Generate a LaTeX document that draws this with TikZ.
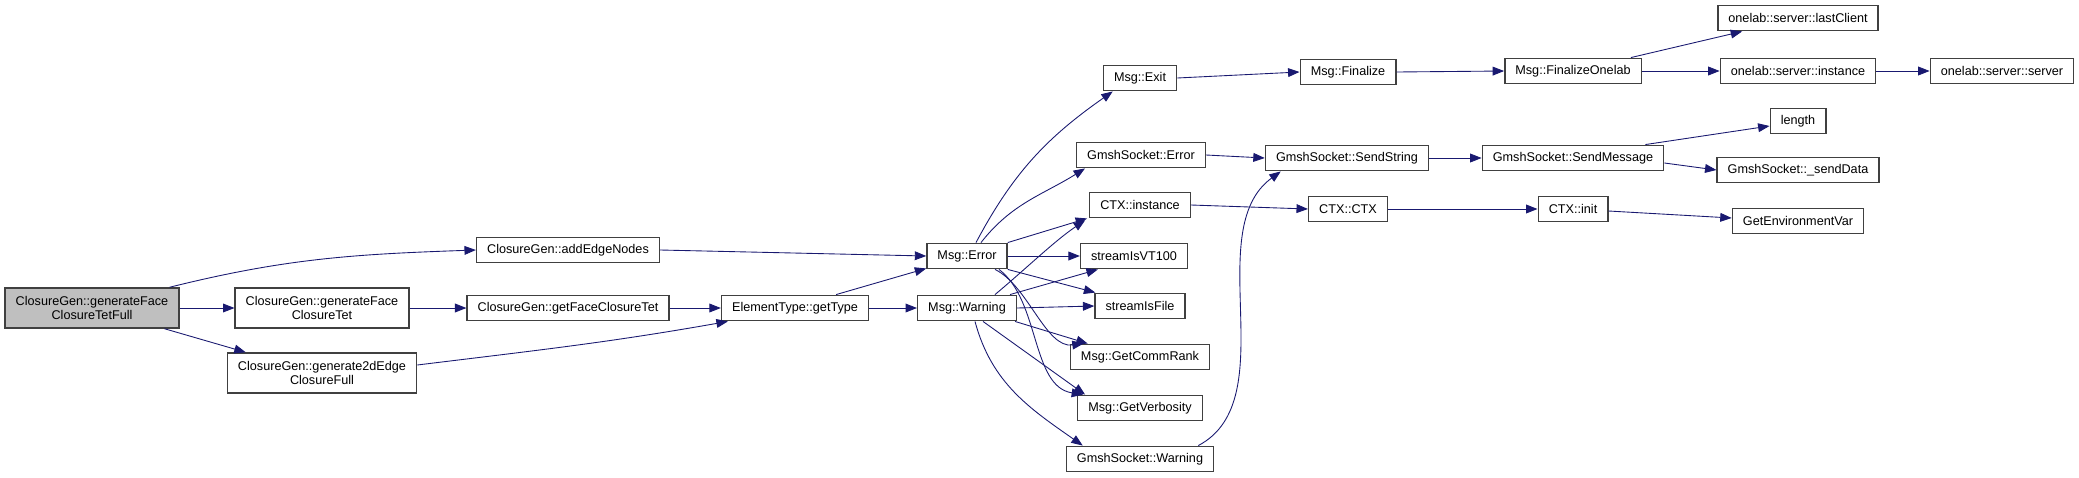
\documentclass[tikz,border=0pt]{standalone}
\usepackage{fontspec}
\setmainfont{Liberation Sans}
\usetikzlibrary{positioning, arrows.meta, calc}
\definecolor{cEdge}{HTML}{191970}
\definecolor{cRoot}{HTML}{BFBFBF}
\definecolor{cLine}{HTML}{404040}

\begin{document}
\begin{tikzpicture}[
  x=0.02cm, y=0.02cm,
  fn/.style={
    draw=cLine, line width=0.8pt, fill=white,
    font=\fontsize{7.2}{7.6}\selectfont, align=center,
    inner xsep=6pt, inner ysep=2pt, minimum height=14.5pt
  },
  fntwo/.style={fn, minimum height=22.8pt},
  rootfn/.style={fntwo, fill=cRoot},
  call/.style={
    draw=cEdge, line width=0.5pt,
    -{Triangle[length=6.5pt,width=5pt]}
  },
]
\useasboundingbox (0,0) rectangle (2079,-477);

% caller side
\node[rootfn] (ftf) at (92,-308) {ClosureGen::generateFace\\ClosureTetFull};
\node[fn] (addedge) at (568,-250) {ClosureGen::addEdgeNodes};
\node[fntwo] (fct) at (322,-308) {ClosureGen::generateFace\\ClosureTet};
\node[fn] (gfct) at (568,-308) {ClosureGen::getFaceClosureTet};
\node[fntwo] (tde) at (322,-373) {ClosureGen::generate2dEdge\\ClosureFull};
\node[fn] (gettype) at (795,-308) {ElementType::getType};

% Msg
\node[fn] (msgerr) at (967,-256) {Msg::Error};
\node[fn] (msgwarn) at (967,-308) {Msg::Warning};
\node[fn] (msgexit) at (1140,-78) {Msg::Exit};
\node[fn] (gserr) at (1141,-155) {GmshSocket::Error};
\node[fn] (ctxinst) at (1140,-205) {CTX::instance};
\node[fn] (isvt) at (1134,-256) {streamIsVT100};
\node[fn] (isfile) at (1140,-306) {streamIsFile};
\node[fn] (commrank) at (1140,-357) {Msg::GetCommRank};
\node[fn] (verbosity) at (1140,-408) {Msg::GetVerbosity};
\node[fn] (gswarn) at (1140,-459) {GmshSocket::Warning};

% further down
\node[fn] (msgfin) at (1348,-72) {Msg::Finalize};
\node[fn] (sendstr) at (1347,-158) {GmshSocket::SendString};
\node[fn] (ctxctx) at (1348,-209) {CTX::CTX};
\node[fn] (finonelab) at (1573,-71) {Msg::FinalizeOnelab};
\node[fn] (sendmsg) at (1573,-158) {GmshSocket::SendMessage};
\node[fn] (ctxinit) at (1573,-209) {CTX::init};
\node[fn] (lastclient) at (1798,-18) {onelab::server::lastClient};
\node[fn] (srvinst) at (1798,-71) {onelab::server::instance};
\node[fn] (len) at (1798,-121) {length};
\node[fn] (senddata) at (1798,-170) {GmshSocket::\_sendData};
\node[fn] (getenv) at (1798,-221) {GetEnvironmentVar};
\node[fn] (srvserver) at (2002,-71) {onelab::server::server};

% calls
\draw[call] ($(ftf.north east)+(-10,0)$) to[out=14,in=182] (addedge.west);
\draw[call] (ftf.east) -- (fct.west);
\draw[call] ($(ftf.south east)+(-15,0)$) -- ($(tde.north west)+(19,0)$);
\draw[call] (addedge.east) -- (msgerr.west);
\draw[call] (fct.east) -- (gfct.west);
\draw[call] (gfct.east) -- (gettype.west);
\draw[call] ($(tde.east)+(0,8)$) to[out=7,in=190] ($(gettype.south west)+(7,0)$);
\draw[call] ($(gettype.north east)+(-33,0)$) -- ($(msgerr.south west)+(0,1)$);
\draw[call] (gettype.east) -- (msgwarn.west);

\draw[call] ($(msgerr.north)+(9,0)$) to[out=62,in=215] ($(msgexit.south west)+(10,0)$);
\draw[call] ($(msgerr.north)+(14,0)$) to[out=52,in=212] ($(gserr.south west)+(9,0)$);
\draw[call] (msgerr.north east) -- ($(ctxinst.south west)+(-2,0)$);
\draw[call] (msgerr.east) -- (isvt.west);
\draw[call] (msgerr.south east) -- ($(isfile.north west)+(1,0)$);
\draw[call] ($(msgerr.south)+(28,0)$) .. controls +(33,-16) and +(-38,-5) .. ($(commrank.north west)+(14,0)$);
\draw[call] ($(msgerr.south)+(32,0)$) .. controls +(41,-31) and +(-52,8) .. ($(verbosity.north west)+(6,0)$);

\draw[call] ($(msgwarn.north)+(28,0)$) .. controls +(30,25) and +(-30,-20) .. ($(ctxinst.south west)+(-4,-2)$);
\draw[call] ($(msgwarn.north east)+(-7,0)$) -- ($(isvt.south west)+(18,0)$);
\draw[call] (msgwarn.east) -- (isfile.west);
\draw[call] ($(msgwarn.south east)+(-2,0)$) -- ($(commrank.north west)+(18,0)$);
\draw[call] ($(msgwarn.south)+(16,0)$) -- ($(verbosity.north west)+(8,0)$);
\draw[call] ($(msgwarn.south)+(8,0)$) to[out=-75,in=145] ($(gswarn.north west)+(17,0)$);

\draw[call] (msgexit.east) -- (msgfin.west);
\draw[call] (msgfin.east) -- (finonelab.west);
\draw[call] ($(finonelab.north east)+(-11,0)$) -- ($(lastclient.south west)+(25,0)$);
\draw[call] (finonelab.east) -- (srvinst.west);
\draw[call] (srvinst.east) -- (srvserver.west);

\draw[call] (gserr.east) -- (sendstr.west);
\draw[call] ($(gswarn.north east)+(-16,0)$) .. controls (1285,-400) and (1200,-230) .. ($(sendstr.south west)+(16,0)$);
\draw[call] (sendstr.east) -- (sendmsg.west);
\draw[call] ($(sendmsg.north east)+(-19,0)$) -- ($(len.west)+(0,-5)$);
\draw[call] ($(sendmsg.east)+(0,-5)$) -- (senddata.west);

\draw[call] (ctxinst.east) -- (ctxctx.west);
\draw[call] (ctxctx.east) -- (ctxinit.west);
\draw[call] ($(ctxinit.east)+(0,-2)$) -- ($(getenv.west)+(0,3)$);

\end{tikzpicture}
\end{document}
